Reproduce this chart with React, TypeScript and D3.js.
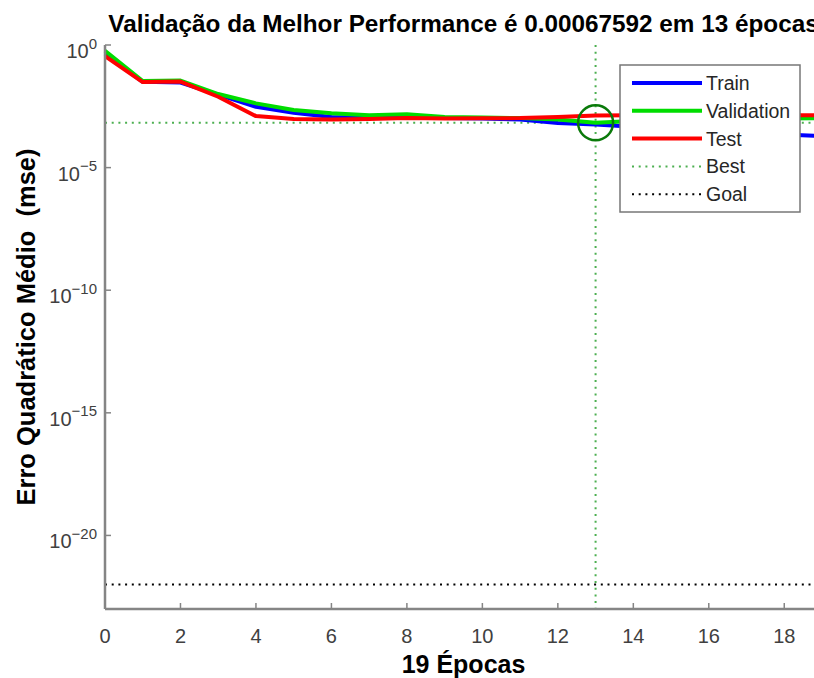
import React from "react";
import * as d3 from "d3";

const epochs = d3.range(0, 20);
const trainPerf = [0.427, 0.0316, 0.0295, 0.00955, 0.00302, 0.00174, 0.00115, 0.0011, 0.0011, 0.00105, 0.001, 0.000912, 0.00066, 0.000575, 0.000468, 0.000389, 0.000324, 0.000269, 0.000224, 0.000195];
const valPerf = [0.575, 0.0339, 0.0355, 0.01, 0.00417, 0.00224, 0.00166, 0.00138, 0.00151, 0.00115, 0.0011, 0.00105, 0.000912, 0.00067592, 0.000794, 0.000871, 0.000912, 0.000955, 0.001, 0.00105];
const testPerf = [0.355, 0.0309, 0.0324, 0.00776, 0.00126, 0.000955, 0.000912, 0.000955, 0.00105, 0.001, 0.00102, 0.00105, 0.00117, 0.00132, 0.00138, 0.00138, 0.00141, 0.00138, 0.00138, 0.00138];
const bestEpoch = 13;
const bestPerf = 0.00067592;
const goal = 1e-22;
const xTicks = [0, 2, 4, 6, 8, 10, 12, 14, 16, 18];
const yTickExps = [0, -5, -10, -15, -20];
const seriesNames = ["Train", "Validation", "Test"];
const seriesColors = ["#0000ff", "#00dd00", "#ff0000"];
const title = "Validação da Melhor Performance é 0.00067592 em 13 épocas";
const xLabel = "19 Épocas";
const yLabel = "Erro Quadrático Médio  (mse)";

const W = 814, H = 678;
const left = 105, right = 822, top = 45, bottom = 609;
const FONT = "'Liberation Sans', Arial, Helvetica, sans-serif";

export default function App() {
  const x = d3.scaleLinear().domain([0, 19]).range([left, right]);
  const y = d3.scaleLog().domain([1e-23, 1]).range([bottom, top]);
  const line = d3.line<number>().x((_, i) => x(epochs[i])).y((d) => y(d));
  const series = [trainPerf, valPerf, testPerf];
  const axisColor = "#858585";
  const tickColor = "#404040";
  const legX = 620, legY = 65, legW = 180, legH = 147;
  const rows = [...seriesNames, "Best", "Goal"];
  return (
    <svg width={W} height={H} style={{ position: "absolute", left: 0, top: 0, background: "#fff" }} fontFamily={FONT}>
      <rect x={0} y={0} width={W} height={H} fill="#fff" />
      {/* goal line */}
      <line x1={left} x2={right} y1={y(goal)} y2={y(goal)} stroke="#000" strokeWidth={2} strokeDasharray="2,4.7" />
      {/* best lines */}
      <line x1={left} x2={right} y1={y(bestPerf)} y2={y(bestPerf)} stroke="#4caf50" strokeWidth={2} strokeDasharray="2,4.7" />
      <line x1={x(bestEpoch)} x2={x(bestEpoch)} y1={top} y2={bottom} stroke="#4caf50" strokeWidth={2} strokeDasharray="2,4.7" />
      {/* series */}
      {series.map((s, i) => (
        <path key={i} d={line(s) || ""} fill="none" stroke={seriesColors[i]} strokeWidth={4} strokeLinejoin="round" />
      ))}
      {/* best circle */}
      <circle cx={x(bestEpoch)} cy={y(bestPerf)} r={17.5} fill="none" stroke="#0a7a0a" strokeWidth={2.5} />
      {/* axes */}
      <line x1={left} x2={left} y1={top} y2={bottom} stroke={axisColor} strokeWidth={2.5} />
      <line x1={left} x2={right} y1={bottom} y2={bottom} stroke={axisColor} strokeWidth={2.5} />
      {xTicks.map((t) => (
        <g key={t}>
          <line x1={x(t)} x2={x(t)} y1={bottom} y2={bottom - 6} stroke={axisColor} strokeWidth={1.5} />
          <text x={x(t)} y={643} textAnchor="middle" fontSize={20} fill={tickColor}>{t}</text>
        </g>
      ))}
      {yTickExps.map((e) => (
        <g key={e}>
          <line x1={left} x2={left + 6} y1={y(Math.pow(10, e))} y2={y(Math.pow(10, e))} stroke={axisColor} strokeWidth={1.5} />
          <text x={97} y={y(Math.pow(10, e)) + 13} textAnchor="end" fontSize={20} fill={tickColor}>
            10<tspan dy={-9.5} fontSize={15}>{e < 0 ? "\u2212" + Math.abs(e) : String(e)}</tspan>
          </text>
        </g>
      ))}
      {/* legend */}
      <rect x={legX} y={legY} width={legW} height={legH} fill="#fff" stroke="#777" strokeWidth={1.5} />
      {rows.map((r, i) => {
        const ry = 83 + i * 27.8;
        const isLine = i < 3;
        return (
          <g key={r}>
            <line x1={632} x2={702} y1={ry} y2={ry}
              stroke={isLine ? seriesColors[i] : i === 3 ? "#4caf50" : "#000"}
              strokeWidth={isLine ? 4 : 2}
              strokeDasharray={isLine ? undefined : "2,4.7"} />
            <text x={706} y={ry + 7} fontSize={19.5} fill="#262626">{r}</text>
          </g>
        );
      })}
      {/* labels */}
      <text x={(left + right) / 2} y={32} textAnchor="middle" fontSize={24.3} fontWeight="bold" fill="#000">{title}</text>
      <text x={(left + right) / 2} y={673} textAnchor="middle" fontSize={25} fontWeight="bold" fill="#000">{xLabel}</text>
      <text transform={`translate(35,${(top + bottom) / 2}) rotate(-90)`} textAnchor="middle" fontSize={25.5} fontWeight="bold" fill="#000" style={{ whiteSpace: "pre" }}>{yLabel}</text>
    </svg>
  );
}
